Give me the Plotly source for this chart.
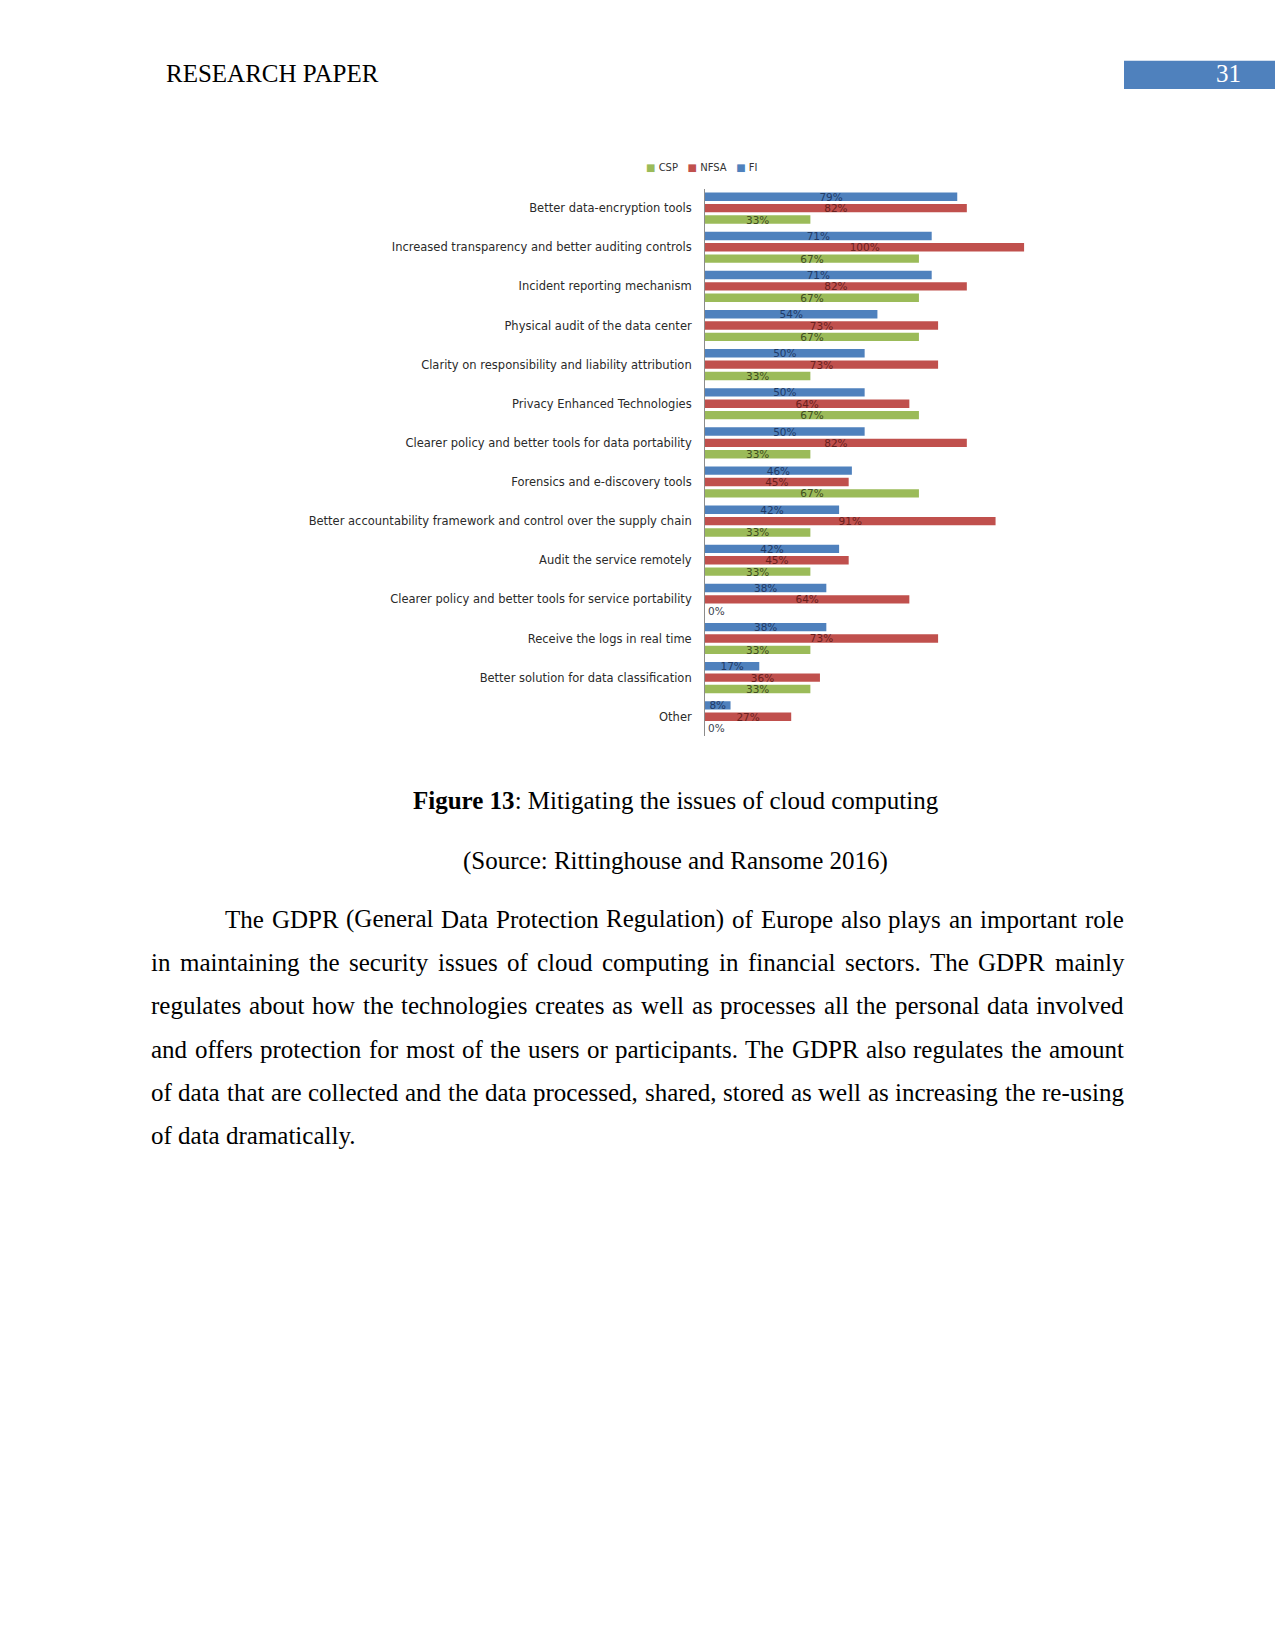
import plotly.graph_objects as go

# ---------------- data ----------------
categories = [
    "Better data-encryption tools",
    "Increased transparency and better auditing controls",
    "Incident reporting mechanism",
    "Physical audit of the data center",
    "Clarity on responsibility and liability attribution",
    "Privacy Enhanced Technologies",
    "Clearer policy and better tools for data portability",
    "Forensics and e-discovery tools",
    "Better accountability framework and control over the supply chain",
    "Audit the service remotely",
    "Clearer policy and better tools for service portability",
    "Receive the logs in real time",
    "Better solution for data classification",
    "Other",
]
fi_values = [79, 71, 71, 54, 50, 50, 50, 46, 42, 42, 38, 38, 17, 8]
nfsa_values = [82, 100, 82, 73, 73, 64, 82, 45, 91, 45, 64, 73, 36, 27]
csp_values = [33, 67, 67, 67, 33, 67, 33, 67, 33, 33, 0, 33, 33, 0]

series_names = ["FI", "NFSA", "CSP"]
series_colors = ["#4F81BD", "#C0504D", "#9BBB59"]
label_colors = ["#1F3A66", "#6A1F1D", "#3E4D1E"]

header_text = "RESEARCH PAPER"
page_number = "31"
caption_bold = "Figure 13"
caption_rest = ": Mitigating the issues of cloud computing"
source_text = "(Source: Rittinghouse and Ransome 2016)"
paragraph_lines = [
    "The GDPR (General Data Protection Regulation) of Europe also plays an important role",
    "in maintaining the security issues of cloud computing in financial sectors. The GDPR mainly",
    "regulates about how the technologies creates as well as processes all the personal data involved",
    "and offers protection for most of the users or participants. The GDPR also regulates the amount",
    "of data that are collected and the data processed, shared, stored as well as increasing the re-using",
    "of data dramatically.",
]

# ---------------- page geometry ----------------
W, H = 1275, 1650


def px(x):
    return x / W


def py(y):
    return 1 - y / H


fig = go.Figure()

for name, vals, col, lcol in zip(series_names, [fi_values, nfsa_values, csp_values],
                                 series_colors, label_colors):
    fig.add_trace(go.Bar(
        y=categories, x=vals, name=name, orientation="h",
        marker=dict(color=col, line=dict(width=0)),
        text=[f"{v}%" for v in vals],
        textposition=["outside" if v == 0 else "inside" for v in vals],
        insidetextanchor="middle",
        constraintext="none",
        textangle=0,
        insidetextfont=dict(family="DejaVu Sans", size=10.5, color=lcol),
        outsidetextfont=dict(family="DejaVu Sans", size=10.5, color="#3A3F4F"),
        cliponaxis=False,
        showlegend=False,
    ))

fig.update_layout(
    width=W, height=H,
    margin=dict(l=0, r=0, t=0, b=0),
    paper_bgcolor="white", plot_bgcolor="white",
    barmode="group", bargap=0.13, bargroupgap=0.26,
    xaxis=dict(domain=[px(705), px(1024.3)], range=[0, 100],
               showgrid=False, zeroline=False, showticklabels=False, showline=False),
    yaxis=dict(domain=[py(736.3), py(188.6)], type="category",
               categoryorder="array", categoryarray=categories,
               autorange="reversed", showgrid=False, zeroline=False,
               showline=True, linecolor="#8C8C8C", linewidth=1,
               ticks="", ticklabelstandoff=10,
               tickfont=dict(family="DejaVu Sans", size=11.5, color="#2A2A2A")),
)

annotations = []

# legend (compact, as in the source image)
SP = "\u00a0\u00a0\u00a0"
legend_html = SP.join(
    f"<span style='color:{c}'>■</span> {n}"
    for n, c in zip(series_names[::-1], series_colors[::-1])
)
annotations.append(dict(x=px(645), y=py(167.3), xref="paper", yref="paper",
                        xanchor="left", yanchor="middle", showarrow=False,
                        text=legend_html, borderpad=0,
                        font=dict(family="DejaVu Sans", size=10, color="#333333")))

SERIF = "Liberation Serif"
FS = 25
MID = 0.3375 * FS  # baseline -> middle of text box

# header
annotations.append(dict(x=px(165), y=py(82 - MID), xref="paper", yref="paper",
                        xanchor="left", yanchor="middle", showarrow=False, borderpad=0,
                        text=header_text, font=dict(family=SERIF, size=FS, color="black")))
annotations.append(dict(x=px(1228), y=py(82 - MID), xref="paper", yref="paper",
                        xanchor="center", yanchor="middle", showarrow=False, borderpad=0,
                        text=page_number, font=dict(family=SERIF, size=FS, color="white")))

# caption + source
annotations.append(dict(x=px(675.5), y=py(809 - MID), xref="paper", yref="paper",
                        xanchor="center", yanchor="middle", showarrow=False, borderpad=0,
                        text=f"<b>{caption_bold}</b>{caption_rest}",
                        font=dict(family=SERIF, size=FS, color="black")))
annotations.append(dict(x=px(675.5), y=py(869 - MID), xref="paper", yref="paper",
                        xanchor="center", yanchor="middle", showarrow=False, borderpad=0,
                        text=source_text, font=dict(family=SERIF, size=FS, color="black")))

# Times / Liberation Serif advance widths (1/1000 em)
TW = {
    'a': 444, 'b': 500, 'c': 444, 'd': 500, 'e': 444, 'f': 333, 'g': 500, 'h': 500,
    'i': 278, 'j': 278, 'k': 500, 'l': 278, 'm': 778, 'n': 500, 'o': 500, 'p': 500,
    'q': 500, 'r': 333, 's': 389, 't': 278, 'u': 500, 'v': 500, 'w': 722, 'x': 500,
    'y': 500, 'z': 444,
    'A': 722, 'B': 667, 'C': 667, 'D': 722, 'E': 611, 'F': 556, 'G': 722, 'H': 722,
    'I': 333, 'J': 389, 'K': 722, 'L': 611, 'M': 889, 'N': 722, 'O': 722, 'P': 556,
    'Q': 722, 'R': 667, 'S': 556, 'T': 611, 'U': 722, 'V': 722, 'W': 944, 'X': 722,
    'Y': 722, 'Z': 611,
    '(': 333, ')': 333, '.': 250, ',': 250, '-': 333, ':': 278, ' ': 250,
}


def text_width(s):
    return sum(TW.get(ch, 500) for ch in s) * FS / 1000


left_margin, right_margin, indent = 150, 1123, 224
baseline0, line_step = 927.7, 43.3

for i, line in enumerate(paragraph_lines):
    base = baseline0 + i * line_step
    start = indent if i == 0 else left_margin
    if i == len(paragraph_lines) - 1:
        annotations.append(dict(x=px(start), y=py(base - MID), xref="paper", yref="paper",
                                xanchor="left", yanchor="middle", showarrow=False,
                                borderpad=0, text=line,
                                font=dict(family=SERIF, size=FS, color="black")))
        continue
    words = line.split(" ")
    widths = [text_width(w) for w in words]
    gap = (right_margin - start - sum(widths)) / (len(words) - 1)
    x = start
    for w, wd in zip(words, widths):
        annotations.append(dict(x=px(x), y=py(base - MID), xref="paper", yref="paper",
                                xanchor="left", yanchor="middle", showarrow=False,
                                borderpad=0, text=w,
                                font=dict(family=SERIF, size=FS, color="black")))
        x += wd + gap

fig.update_layout(annotations=annotations)

# page-number box
fig.add_shape(type="rect", xref="paper", yref="paper",
              x0=px(1124), x1=1.0, y0=py(89), y1=py(60.7),
              fillcolor="#4F81BD", line=dict(width=0), layer="below")

fig.write_html(
    "out.html",
    config={"displayModeBar": False},
    post_script="document.body.style.margin='0px';document.body.style.overflow='hidden';",
)
